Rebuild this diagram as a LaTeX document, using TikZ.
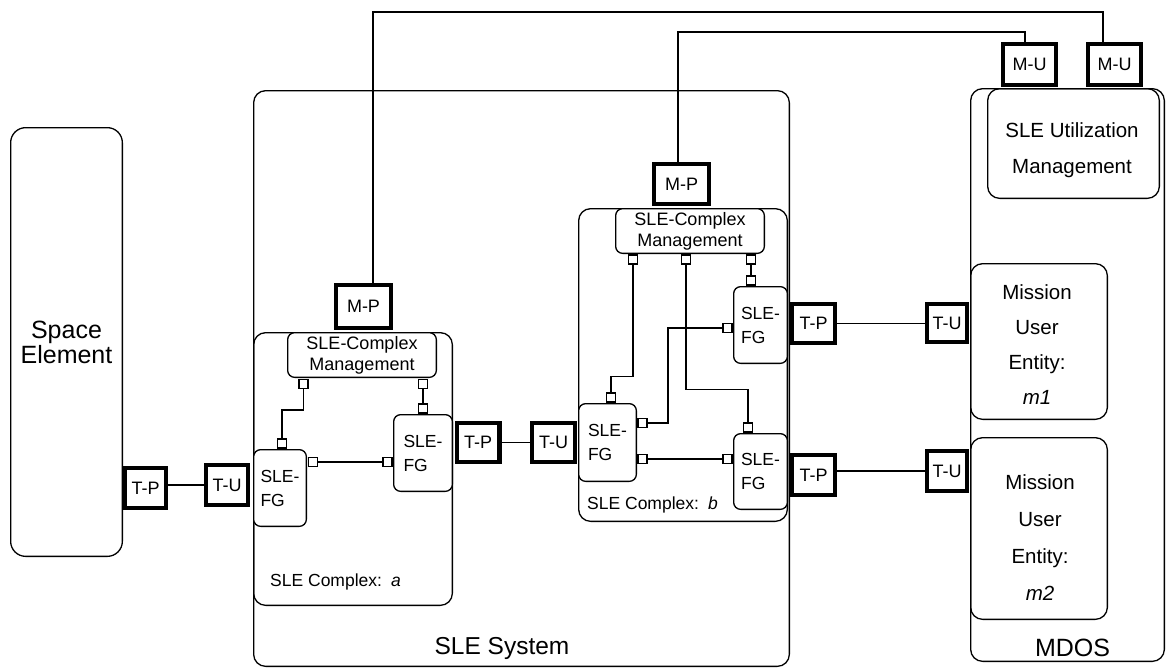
\documentclass[tikz,border=0pt]{standalone}
\usepackage{fontspec}
\setmainfont{Liberation Sans}
\usetikzlibrary{calc}
\begin{document}
\begin{tikzpicture}[x=1pt,y=-1pt,
  rbox/.style={draw, line width=1.3pt, rounded corners=12pt, inner sep=0pt},
  fgbox/.style={draw, line width=1.3pt, rounded corners=7pt, fill=white, inner sep=0pt, align=left, font=\fontsize{17.5}{24}\selectfont},
  mgbox/.style={draw, line width=1.3pt, rounded corners=7pt, fill=white, inner sep=0pt, align=center, font=\fontsize{18}{21}\selectfont},
  port/.style={draw, line width=4.2pt, fill=white, inner sep=0pt, font=\fontsize{18}{20}\selectfont},
  sq/.style={draw, line width=1.2pt, fill=white, inner sep=0pt, minimum size=9pt},
  wire/.style={line width=1.3pt},
  lbl/.style={inner sep=0pt},
]
\useasboundingbox (0,0) rectangle (1166,670);

% large containers
\node[rbox, minimum width=535.7pt, minimum height=575.7pt] (sys) at (521.5,378.5) {};
\node[lbl, font=\fontsize{24.5}{28}\selectfont] (systxt) at (502,648) {SLE System};

\node[rbox, minimum width=193.7pt, minimum height=572.7pt] (mdos) at (1067.5,375) {};
\node[lbl, font=\fontsize{25}{30}\selectfont] (mdostxt) at (1072.5,648) {MDOS};

\node[rbox, minimum width=171.7pt, minimum height=109.7pt] (util) at (1073.5,143.5) {};
\node[lbl, align=center, font=\fontsize{20.5}{36}\selectfont] (utiltxt) at (1072,150) {SLE Utilization\\Management};

\node[rbox, minimum width=136.7pt, minimum height=155.7pt] (m1) at (1039,341.5) {};
\node[lbl, align=center, font=\fontsize{20.5}{35}\selectfont] (m1txt) at (1037,345) {Mission\\User\\Entity:\\\textit{m1}};

\node[rbox, minimum width=136.7pt, minimum height=181.7pt] (m2) at (1039,528.5) {};
\node[lbl, align=center, font=\fontsize{20.5}{37}\selectfont] (m2txt) at (1040,537.5) {Mission\\User\\Entity:\\\textit{m2}};

\node[rbox, rounded corners=15pt, minimum width=111.7pt, minimum height=428.7pt, align=center, font=\fontsize{25}{25}\selectfont] (space) at (66.5,342) {Space\\Element};

% complexes
\node[rbox, minimum width=198.7pt, minimum height=272.7pt] (cxa) at (353,469) {};
\node[lbl, anchor=base west, font=\fontsize{17.5}{20}\selectfont] (cxatxt) at (270,586) {SLE Complex:\hspace{9pt}\textit{a}};
\node[rbox, minimum width=208.7pt, minimum height=312.7pt] (cxb) at (683,365) {};
\node[lbl, anchor=base west, font=\fontsize{17.5}{20}\selectfont] (cxbtxt) at (587,509) {SLE Complex:\hspace{9pt}\textit{b}};

\node[mgbox, minimum width=148.7pt, minimum height=44.7pt] (mga) at (362,355) {SLE-Complex\\Management};
\node[mgbox, minimum width=148.7pt, minimum height=44.7pt] (mgb) at (690,231) {SLE-Complex\\Management};

% functional groups
\node[fgbox, minimum width=52.7pt, minimum height=76.7pt] (a1) at (280,488) {SLE-\\FG};
\node[fgbox, minimum width=58.7pt, minimum height=76.7pt] (a2) at (423,453) {SLE-\\FG};
\node[fgbox, minimum width=53.7pt, minimum height=76.7pt] (b1) at (760.5,325) {SLE-\\FG};
\node[fgbox, minimum width=57.7pt, minimum height=77.7pt] (bL) at (607.5,442.5) {SLE-\\FG};
\node[fgbox, minimum width=53.7pt, minimum height=75.7pt] (bB) at (760.5,471.5) {SLE-\\FG};

% ports
\node[port, minimum width=40.8pt, minimum height=39.8pt] (tpL) at (145.5,488) {T-P};
\node[port, minimum width=41.8pt, minimum height=39.8pt] (tuL) at (227,485) {T-U};
\node[port, minimum width=54.8pt, minimum height=42.8pt] (mpA) at (363.5,306.5) {M-P};
\node[port, minimum width=42.8pt, minimum height=38.8pt] (tpM) at (478,442.5) {T-P};
\node[port, minimum width=42.8pt, minimum height=38.8pt] (tuM) at (553.5,442.5) {T-U};
\node[port, minimum width=54.8pt, minimum height=39.8pt] (mpB) at (681.5,184) {M-P};
\node[port, minimum width=42.8pt, minimum height=38.8pt] (tp1) at (813.5,323.5) {T-P};
\node[port, minimum width=39.8pt, minimum height=37.8pt] (tu1) at (947,323) {T-U};
\node[port, minimum width=42.8pt, minimum height=39.8pt] (tp2) at (813.5,475) {T-P};
\node[port, minimum width=39.8pt, minimum height=39.8pt] (tu2) at (947,471) {T-U};
\node[port, minimum width=52.8pt, minimum height=40.8pt] (mu1) at (1029.5,64.5) {M-U};
\node[port, minimum width=52.8pt, minimum height=40.8pt] (mu2) at (1114.5,64.5) {M-U};

% port links
\draw[wire] (tuL.west -| tpL.east) -- (tuL.west);
\draw[wire] (tpM.east) -- (tpM.east -| tuM.west);
\draw[wire] (tp1.east) -- (tp1.east -| tu1.west);
\draw[wire] (tu2.west -| tp2.east) -- (tu2.west);
\draw[wire] (373,0 |- mpA.north) -- (373,12) -- (1103,12) -- (1103,0 |- mu2.north);
\draw[wire] (678,0 |- mpB.north) -- (678,32) -- (1025,32) -- (1025,0 |- mu1.north);

% complex a squares and wires
\node[sq] (sA1) at (303.5,384) {};
\node[sq] (sA2) at (423,384) {};
\node[sq] (sA2t) at (423,408.5) {};
\node[sq] (sA1t) at (282,443.5) {};
\node[sq] (sA1r) at (313,462) {};
\node[sq] (sA2l) at (387.5,462) {};
\draw[wire] (sA1.south) -- ++(0,21) -| (sA1t.north);
\draw[wire] (sA2.south) -- (sA2t.north);
\draw[wire] (sA1r.east) -- (sA2l.west);

% complex b squares and wires
\node[sq] (sB1) at (633,259.5) {};
\node[sq] (sB2) at (686,259.5) {};
\node[sq] (sB3) at (751,259.5) {};
\node[sq] (sb1t) at (751,280.5) {};
\node[sq] (sbLt) at (611,397.5) {};
\node[sq] (sbLr1) at (642.5,423) {};
\node[sq] (sbLr2) at (642.5,459) {};
\node[sq] (sbBt) at (748,427.5) {};
\node[sq] (sbBl) at (727.5,459) {};
\node[sq] (sb1l) at (727.5,328) {};
\draw[wire] (sB1.south) -- ++(0,112) -| (sbLt.north);
\draw[wire] (sB2.south) -- ++(0,125) -| (sbBt.north);
\draw[wire] (sB3.south) -- (sb1t.north);
\draw[wire] (sbLr1.east) -- ++(20.5,0) |- (sb1l.west);
\draw[wire] (sbLr2.east) -- (sbBl.west);
\end{tikzpicture}
\end{document}
